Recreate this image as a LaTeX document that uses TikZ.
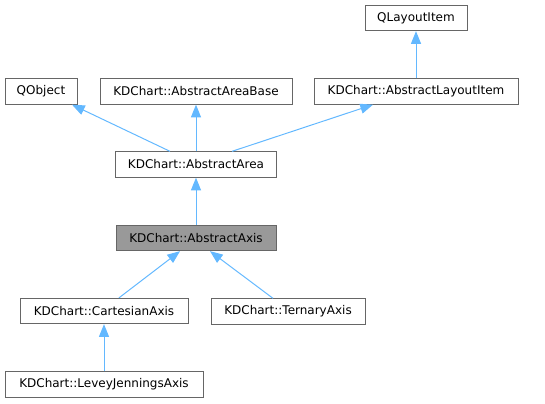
\documentclass[tikz,border=0pt]{standalone}
\usepackage{fontspec}
\setmainfont{DejaVu Sans}
\usepackage{xcolor}
\usetikzlibrary{arrows.meta}
\definecolor{edgeblue}{HTML}{63B8FF}
\definecolor{boxgray}{HTML}{666666}
\definecolor{curgray}{HTML}{999999}

\begin{document}
\begin{tikzpicture}[x=0.75pt,y=-0.75pt,
    cls/.style={draw=boxgray, fill=white, line width=0.75pt, inner sep=0pt, minimum height=19pt, font=\fontsize{9}{11}\selectfont},
    cur/.style={cls, fill=curgray},
    inh/.style={draw=edgeblue, line width=0.75pt, -{Triangle[width=7.5pt,length=9.5pt,fill=edgeblue]}}]
  \useasboundingbox (0,0) rectangle (545,403);
  \node[cls, minimum width=76.5pt] (QLI) at (416,18) {QLayoutItem};
  \node[cls, minimum width=54pt] (QO) at (41,91.5) {QObject};
  \node[cls, minimum width=144pt] (AAB) at (196,91.5) {KDChart::AbstractAreaBase};
  \node[cls, minimum width=153pt] (ALI) at (416,91.5) {KDChart::AbstractLayoutItem};
  \node[cls, minimum width=120.75pt] (AA) at (196,164.5) {KDChart::AbstractArea};
  \node[cur, minimum width=120pt] (AX) at (196,238) {KDChart::AbstractAxis};
  \node[cls, minimum width=126pt] (CA) at (104,311) {KDChart::CartesianAxis};
  \node[cls, minimum width=115.5pt] (TA) at (288,311.5) {KDChart::TernaryAxis};
  \node[cls, minimum width=148.5pt] (LJA) at (104,384.5) {KDChart::LeveyJenningsAxis};
  \draw[inh] (ALI) -- (QLI);
  \draw[inh] ([xshift=-19.5pt]AA.north) -- ([xshift=23.25pt]QO.south);
  \draw[inh] (AA) -- (AAB);
  \draw[inh] ([xshift=27pt]AA.north) -- ([xshift=-32.25pt]ALI.south);
  \draw[inh] (AX) -- (AA);
  \draw[inh] ([xshift=11.25pt]CA.north) -- ([xshift=-12pt]AX.south);
  \draw[inh] ([xshift=-11.25pt]TA.north) -- ([xshift=10.5pt]AX.south);
  \draw[inh] (LJA) -- (CA);
\end{tikzpicture}
\end{document}
